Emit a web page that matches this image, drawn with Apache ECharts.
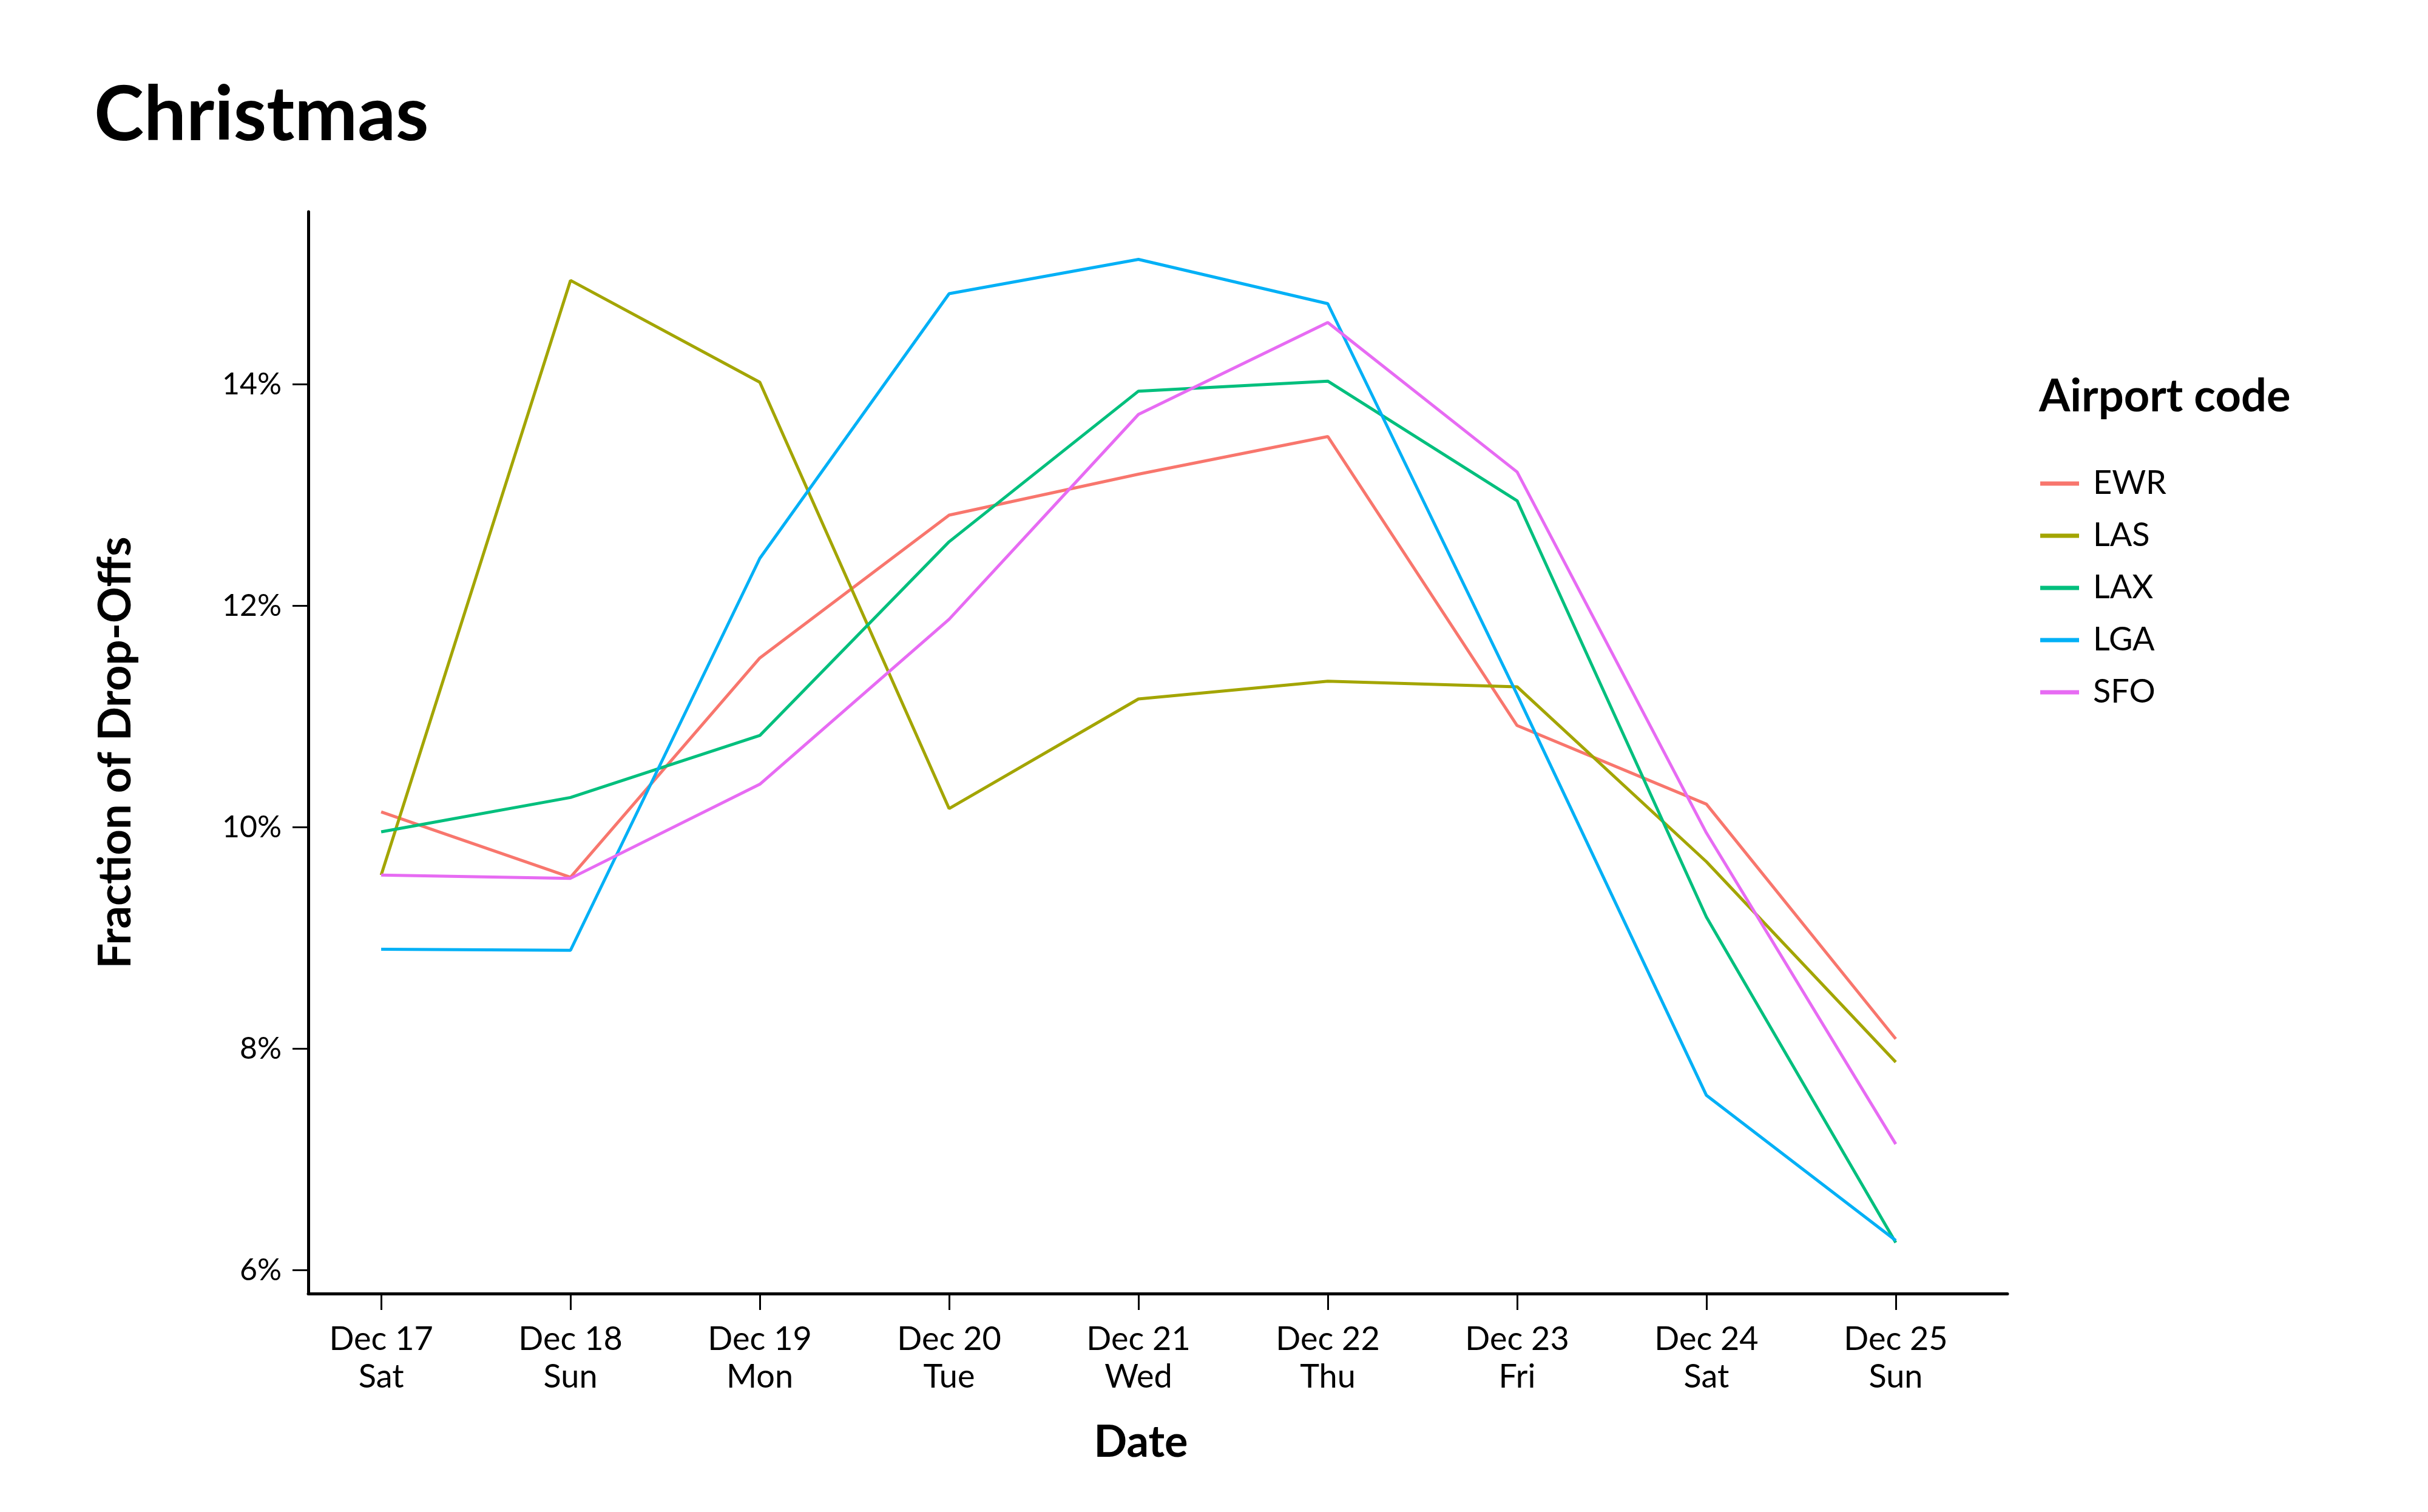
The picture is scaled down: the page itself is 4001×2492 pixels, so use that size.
<!DOCTYPE html>
<html>
<head>
<meta charset="utf-8">
<script src="https://cdn.jsdelivr.net/npm/echarts@6/dist/echarts.min.js"></script>
<style>
html,body{margin:0;padding:0;background:#fff;}
#chart{width:4001px;height:2492px;}
</style>
</head>
<body>
<div id="chart"></div>
<script>
const dates = ['Dec 17','Dec 18','Dec 19','Dec 20','Dec 21','Dec 22','Dec 23','Dec 24','Dec 25'];
const days = ['Sat','Sun','Mon','Tue','Wed','Thu','Fri','Sat','Sun'];
const yTicks = [6, 8, 10, 12, 14];
const airports = ['EWR','LAS','LAX','LGA','SFO'];
const EWR = [10.14, 9.55, 11.53, 12.82, 13.19, 13.53, 10.92, 10.21, 8.09];
const LAS = [9.57, 14.94, 14.02, 10.17, 11.16, 11.32, 11.27, 9.69, 7.88];
const LAX = [9.96, 10.27, 10.83, 12.58, 13.94, 14.03, 12.95, 9.19, 6.25];
const LGA = [8.90, 8.89, 12.43, 14.82, 15.13, 14.73, 11.20, 7.58, 6.27];
const SFO = [9.57, 9.54, 10.39, 11.88, 13.73, 14.56, 13.21, 9.95, 7.14];
const colors = ['#F8766D','#A3A500','#00BF7D','#00B0F6','#E76BF3'];

const seriesValues = [EWR, LAS, LAX, LGA, SFO];
const xIdx = dates.map((d, i) => i);
const FONT = 'Lato';

const chart = echarts.init(document.getElementById('chart'), null, {renderer: 'canvas'});
chart.setOption({
  backgroundColor: '#ffffff',
  animation: false,
  textStyle: {fontFamily: FONT, color: '#000'},
  title: [
    {text: 'Christmas', left: 150, top: 124,
     textStyle: {fontFamily: FONT, fontWeight: 'bold', fontSize: 124, color: '#000'}},
    {text: 'Airport code', left: 3355, top: 612,
     textStyle: {fontFamily: FONT, fontWeight: 'bold', fontSize: 74, color: '#000'}}
  ],
  legend: {
    orient: 'vertical',
    left: 3357, top: 762,
    icon: 'rect',
    itemWidth: 64, itemHeight: 7,
    itemGap: 26,
    data: airports,
    textStyle: {fontFamily: FONT, fontSize: 54, color: '#000', lineHeight: 60, padding: [0,0,0,18]}
  },
  grid: {left: 508, top: 349, width: 2800, height: 1783, containLabel: false},
  xAxis: {
    type: 'value', min: -0.385, max: 8.59,
    name: 'Date', nameLocation: 'middle', nameGap: 210,
    nameTextStyle: {fontFamily: FONT, fontWeight: 'bold', fontSize: 72, color: '#000', padding: [0, 56, 0, 0]},
    axisLine: {show: true, onZero: false, lineStyle: {color: '#000', width: 5}},
    axisTick: {show: true, length: 27, lineStyle: {color: '#000', width: 3}, customValues: xIdx},
    axisLabel: {
      customValues: xIdx, margin: 45,
      fontFamily: FONT, fontSize: 54, color: '#000', lineHeight: 62, align: 'center',
      formatter: v => dates[v] + '\n' + days[v]
    },
    splitLine: {show: false}
  },
  yAxis: {
    type: 'value', min: 5.79, max: 15.56,
    name: 'Fraction of Drop-Offs', nameLocation: 'middle', nameGap: 280, nameRotate: 90,
    nameTextStyle: {fontFamily: FONT, fontWeight: 'bold', fontSize: 74, color: '#000'},
    axisLine: {show: true, onZero: false, lineStyle: {color: '#000', width: 5}},
    axisTick: {show: true, length: 26, lineStyle: {color: '#000', width: 3}, customValues: yTicks},
    axisLabel: {
      customValues: yTicks, margin: 44,
      fontFamily: FONT, fontSize: 50, color: '#000',
      formatter: v => v + '%'
    },
    splitLine: {show: false}
  },
  series: airports.map((name, k) => ({
    name: name,
    type: 'line',
    symbol: 'none',
    color: colors[k],
    lineStyle: {width: 5, color: colors[k]},
    itemStyle: {color: colors[k]},
    data: seriesValues[k].map((v, i) => [xIdx[i], v])
  }))
});
</script>
</body>
</html>
